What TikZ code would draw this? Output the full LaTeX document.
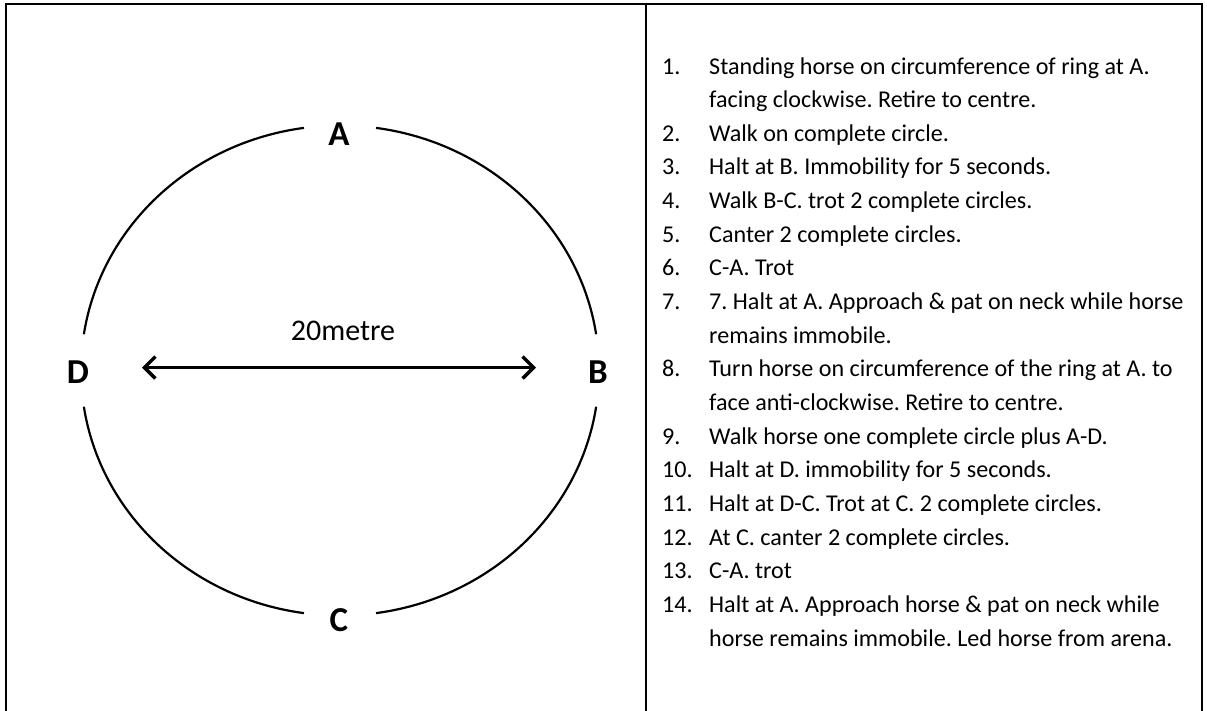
\documentclass[tikz,border=0pt]{standalone}
\usepackage{fontspec}
\setmainfont{Carlito}
\usetikzlibrary{arrows.meta}
\frenchspacing
\newcommand{\listfont}{\fontsize{24.1}{29}\selectfont}
\begin{document}
\begin{tikzpicture}[x=1pt,y=-1pt]
\useasboundingbox (0,0) rectangle (1207,710);
\tikzset{
  frame/.style={line width=2pt},
  ring/.style={line width=2.2pt},
  lab/.style={font=\fontsize{35}{40}\selectfont\bfseries, inner sep=0},
  dim/.style={font=\fontsize{30}{34}\selectfont, inner sep=0},
  num/.style={anchor=base west, font=\listfont, inner sep=0},
  txt/.style={anchor=base west, font=\listfont, inner sep=0},
  dimarrow/.style={line width=3.5pt, {Straight Barb[length=11pt,width=22pt]}-{Straight Barb[length=11pt,width=22pt]}}
}
% frame
\draw[frame] (5.5,712) -- (5.5,4) -- (1202,4) -- (1202,712);
\draw[frame] (646,4) -- (646,712);
% ring (elliptical arcs with gaps)
\def\cx{340}\def\cy{370.5}\def\rx{259}\def\ry{245}
\draw[ring] (\cx,\cy) ++(8.5:\rx pt and \ry pt) arc[start angle=8.5, end angle=82, x radius=\rx pt, y radius=\ry pt];
\draw[ring] (\cx,\cy) ++(98:\rx pt and \ry pt) arc[start angle=98, end angle=171.5, x radius=\rx pt, y radius=\ry pt];
\draw[ring] (\cx,\cy) ++(188.5:\rx pt and \ry pt) arc[start angle=188.5, end angle=262, x radius=\rx pt, y radius=\ry pt];
\draw[ring] (\cx,\cy) ++(278:\rx pt and \ry pt) arc[start angle=278, end angle=351.5, x radius=\rx pt, y radius=\ry pt];
% labels
\node[lab] (A) at (339,134) {A};
\node[lab] (C) at (339,620) {C};
\node[lab] (D) at (78,372) {D};
\node[lab] (B) at (598,372) {B};
\node[dim] (m) at (343,331) {20metre};
\coordinate (L) at (142,367.5);
\coordinate (R) at (536,367.5);
\draw[dimarrow] (L) -- (R);
% list
\node[num] (n1) at (662,74) {1.};
\node[txt] (t1) at (709,74) {Standing horse on circumference of ring at A.};
\node[txt] (t1b) at (709,107.65) {facing clockwise. Retire to centre.};
\node[num] (n2) at (662,141.3) {2.};
\node[txt] (t2) at (709,141.3) {Walk on complete circle.};
\node[num] (n3) at (662,174.95) {3.};
\node[txt] (t3) at (709,174.95) {Halt at B. Immobility for 5 seconds.};
\node[num] (n4) at (662,208.6) {4.};
\node[txt] (t4) at (709,208.6) {Walk B-C. trot 2 complete circles.};
\node[num] (n5) at (662,242.25) {5.};
\node[txt] (t5) at (709,242.25) {Canter 2 complete circles.};
\node[num] (n6) at (662,275.9) {6.};
\node[txt] (t6) at (709,275.9) {C-A. Trot};
\node[num] (n7) at (662,309.55) {7.};
\node[txt] (t7) at (709,309.55) {7. Halt at A. Approach \& pat on neck while horse};
\node[txt] (t7b) at (709,343.2) {remains immobile.};
\node[num] (n8) at (662,376.85) {8.};
\node[txt] (t8) at (709,376.85) {Turn horse on circumference of the ring at A. to};
\node[txt] (t8b) at (709,410.5) {face anti-clockwise. Retire to centre.};
\node[num] (n9) at (662,444.15) {9.};
\node[txt] (t9) at (709,444.15) {Walk horse one complete circle plus A-D.};
\node[num] (n10) at (662,477.8) {10.};
\node[txt] (t10) at (709,477.8) {Halt at D. immobility for 5 seconds.};
\node[num] (n11) at (662,511.45) {11.};
\node[txt] (t11) at (709,511.45) {Halt at D-C. Trot at C. 2 complete circles.};
\node[num] (n12) at (662,545.1) {12.};
\node[txt] (t12) at (709,545.1) {At C. canter 2 complete circles.};
\node[num] (n13) at (662,578.75) {13.};
\node[txt] (t13) at (709,578.75) {C-A. trot};
\node[num] (n14) at (662,612.4) {14.};
\node[txt] (t14) at (709,612.4) {Halt at A. Approach horse \& pat on neck while};
\node[txt] (t14b) at (709,646.05) {horse remains immobile. Led horse from arena.};
\end{tikzpicture}
\end{document}
